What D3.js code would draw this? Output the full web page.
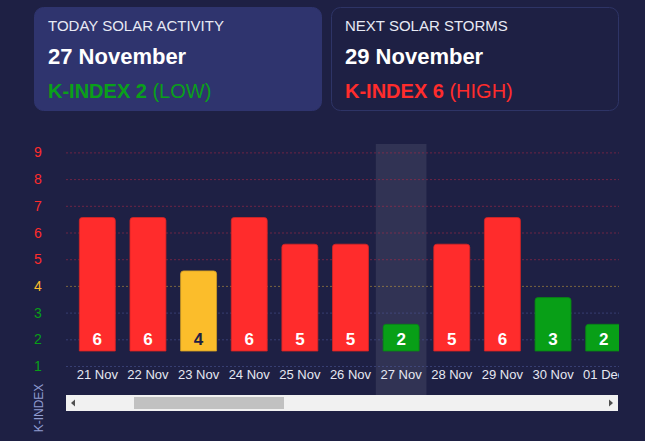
<!DOCTYPE html>
<html><head><meta charset="utf-8">
<script src="https://cdn.jsdelivr.net/npm/d3@7"></script>
<style>
html,body{margin:0;padding:0;background:#1e2044;}
svg{display:block;font-family:"Liberation Sans",Arial,sans-serif;}
</style></head>
<body>
<svg id="c" width="645" height="441"></svg>
<script>
const dates = ["21 Nov","22 Nov","23 Nov","24 Nov","25 Nov","26 Nov","27 Nov","28 Nov","29 Nov","30 Nov","01 Dec"];
const kIndex = [6,6,4,6,5,5,2,5,6,3,2];
const yTicks = [1,2,3,4,5,6,7,8,9];
const today = "27 Nov";
const cards = [
  {title:"TODAY SOLAR ACTIVITY", date:"27 November", k:"K-INDEX 2", level:"(LOW)", color:"#0aa01a", active:true},
  {title:"NEXT SOLAR STORMS", date:"29 November", k:"K-INDEX 6", level:"(HIGH)", color:"#ff2c2c", active:false}
];

const RED="#ff2c2c", YEL="#fbbd2b", GRN="#089f17";
const colorOf = v => v>=5 ? RED : (v===4 ? YEL : GRN);
const gridColor = v => v>=5 ? "rgba(190,40,70,0.5)" : (v===4 ? "rgba(215,170,60,0.5)" : "rgba(80,92,160,0.5)");

const svg = d3.select("#c");
svg.append("rect").attr("width",645).attr("height",441).attr("fill","#1e2044");

// cards
const cardX = [34, 331];
cards.forEach((c,i)=>{
  const g = svg.append("g").attr("transform",`translate(${cardX[i]},7)`);
  g.append("rect").attr("x",0.5).attr("y",0.5).attr("width",287).attr("height",103).attr("rx",9)
    .attr("fill", c.active ? "#2f346e" : "#1e2044")
    .attr("stroke", c.active ? "#2f346e" : "#2e3466").attr("stroke-width",1);
  g.append("text").attr("x",14).attr("y",23.5).attr("fill","#e8eaf4").attr("font-size",15).text(c.title);
  g.append("text").attr("x",14).attr("y",57).attr("fill","#ffffff").attr("font-size",22).attr("font-weight","bold").text(c.date);
  const t = g.append("text").attr("x",14).attr("y",90.5).attr("fill",c.color).attr("font-size",20);
  t.append("tspan").attr("font-weight","bold").text(c.k);
  t.append("tspan").text(" "+c.level);
});

// scales
const x = d3.scaleBand().domain(dates).range([72, 629]).paddingInner(0.29).paddingOuter(0.145);
const y = d3.scaleLinear().domain([1,9]).range([351, 137.4]);
const gridOff = 15;
const plotL = 66, plotR = 619;

// y axis labels
svg.append("g").selectAll("text").data(yTicks).join("text")
  .attr("x",38).attr("y",d=>y(d)+gridOff+5).attr("text-anchor","middle")
  .attr("font-size",14).attr("fill",colorOf).text(d=>d);

// clip
svg.append("defs").append("clipPath").attr("id","clip")
  .append("rect").attr("x",plotL).attr("y",130).attr("width",plotR-plotL).attr("height",270);
const plot = svg.append("g").attr("clip-path","url(#clip)");

// highlight band
const step = x.step();
plot.append("rect").attr("x", x(today) - x.paddingInner()*step/2).attr("y",144)
  .attr("width",step).attr("height",251).attr("fill","rgba(255,255,255,0.085)");

// grid lines
plot.append("g").selectAll("line").data(yTicks).join("line")
  .attr("x1",plotL).attr("x2",plotR).attr("y1",d=>y(d)+gridOff+0.5).attr("y2",d=>y(d)+gridOff+0.5)
  .attr("stroke",gridColor).attr("stroke-width",1).attr("stroke-dasharray","2,2");

// bars with rounded top
const r = 3;
const barPath = d => {
  const x0 = x(d.date), w = x.bandwidth(), y0 = y(d.v), y1 = y(1);
  return `M${x0},${y1}V${y0+r}Q${x0},${y0} ${x0+r},${y0}H${x0+w-r}Q${x0+w},${y0} ${x0+w},${y0+r}V${y1}Z`;
};
const data = dates.map((d,i)=>({date:d, v:kIndex[i]}));
plot.append("g").selectAll("path").data(data).join("path")
  .attr("d",barPath).attr("fill",d=>colorOf(d.v))
  .attr("stroke",d=>d3.color(colorOf(d.v)).darker(0.5)).attr("stroke-width",0.8);

plot.append("g").selectAll("text").data(data).join("text")
  .attr("x",d=>x(d.date)+x.bandwidth()/2).attr("y",y(1)-6)
  .attr("text-anchor","middle").attr("font-size",17).attr("font-weight","bold")
  .attr("fill",d=>d.v===4 ? "#1e2044" : "#ffffff").text(d=>d.v);

// x labels
plot.append("g").selectAll("text").data(dates).join("text")
  .attr("x",d=>x(d)+x.bandwidth()/2).attr("y",379)
  .attr("text-anchor","middle").attr("font-size",13).attr("fill","#e6e8f2").text(d=>d);

// axis title
svg.append("text").attr("transform","translate(42.5,408) rotate(-90)").attr("text-anchor","middle")
  .attr("font-size",12).attr("fill","#8f9bd0").text("K-INDEX");

// scrollbar
const sb = svg.append("g");
sb.append("rect").attr("x",66).attr("y",395).attr("width",552).attr("height",16).attr("fill","#f1f1f1");
sb.append("rect").attr("x",134).attr("y",397).attr("width",150).attr("height",12).attr("fill","#c1c1c1");
sb.append("path").attr("d","M71,403 L75,399.5 L75,406.5 Z").attr("fill","#505050");
sb.append("path").attr("d","M613,403 L609,399.5 L609,406.5 Z").attr("fill","#505050");
</script>
</body></html>
